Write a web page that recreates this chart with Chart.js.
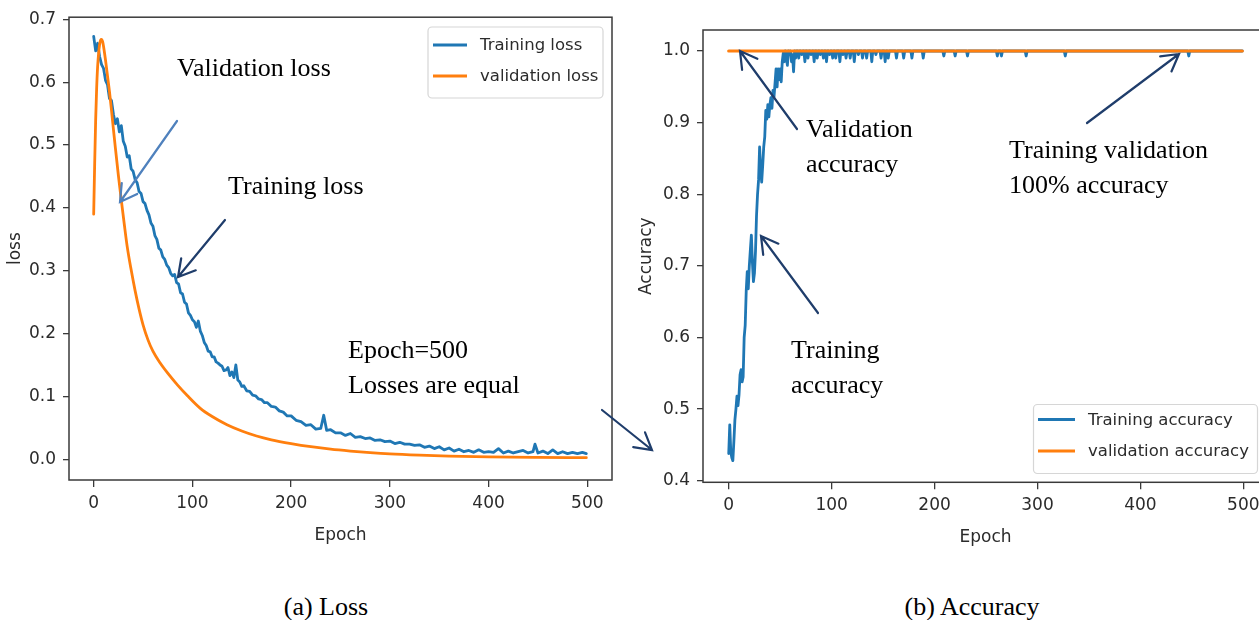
<!DOCTYPE html>
<html>
<head>
<meta charset="utf-8">
<script src="https://cdn.jsdelivr.net/npm/chart.js@4.4.0/dist/chart.umd.min.js"></script>
<style>
  html, body { margin: 0; padding: 0; background: #fff; overflow: hidden; width: 1259px; height: 620px; }
  canvas { position: absolute; top: 0; }
  #lossChart { left: 0; }
  #accChart { left: 631px; }
  .note { position: absolute; font-family: 'Liberation Serif', 'Times New Roman', serif; font-size: 26px;
          line-height: 35px; color: #000; white-space: nowrap; }
  .cap { width: 300px; text-align: center; }
</style>
</head>
<body>
<canvas id="lossChart" width="660" height="560"></canvas>
<canvas id="accChart" width="647" height="560"></canvas>

<div class="note" style="left:177px; top:50px">Validation loss</div>
<div class="note" style="left:228px; top:168px">Training loss</div>
<div class="note" style="left:348px; top:332px">Epoch=500<br>Losses are equal</div>
<div class="note" style="left:806px; top:111px">Validation<br>accuracy</div>
<div class="note" style="left:1009px; top:132px">Training validation<br>100% accuracy</div>
<div class="note" style="left:791px; top:332px">Training<br>accuracy</div>
<div class="note cap" style="left:176px; top:589px">(a) Loss</div>
<div class="note cap" style="left:822px; top:589px">(b) Accuracy</div>

<script>
// tick labels
const epochTicks = [0, 100, 200, 300, 400, 500];
const lossTicks = [0.0, 0.1, 0.2, 0.3, 0.4, 0.5, 0.6, 0.7];
const accTicks = [0.4, 0.5, 0.6, 0.7, 0.8, 0.9, 1.0];

// loss curves
const trainLossEpochs = [0,2,4,6,8,10,12,14,16,18,20,22,24,26,28,30,32,34,36,38,40,42,44,46,48,50,
  52,54,56,58,60,62,64,66,68,70,72,74,76,78,80,82,84,86,88,90,92,94,96,98,100,102,104,106,108,110,
  112,114,116,118,120,122,124,126,128,130,132,134,136,138,140,142,144,146,148,150,152,155,158,161,
  164,167,170,173,176,180,184,188,192,196,200,205,210,215,220,225,230,233,236,240,245,250,255,260,
  265,270,275,280,285,290,295,300,305,310,315,320,325,330,335,340,345,350,355,360,365,370,375,380,
  385,390,395,400,405,410,415,420,425,430,435,440,445,447,450,455,460,465,470,475,480,485,490,495,499];
const trainLoss = [.673,.650,.662,.641,.628,.622,.603,.596,.574,.571,.549,.534,.542,.521,.531,.506,
  .498,.481,.483,.462,.458,.445,.440,.426,.423,.410,.407,.396,.389,.376,.371,.356,.350,.336,.333,.322,
  .318,.309,.305,.296,.292,.294,.281,.279,.265,.263,.250,.247,.233,.229,.222,.219,.210,.220,.204,.197,
  .186,.181,.172,.171,.163,.163,.155,.153,.150,.148,.141,.142,.146,.133,.139,.130,.150,.126,.123,.116,
  .117,.109,.108,.102,.101,.096,.095,.090,.090,.084,.083,.077,.075,.069,.069,.062,.060,.054,.055,.048,
  .049,.070,.046,.047,.042,.042,.038,.041,.035,.036,.033,.034,.030,.031,.028,.029,.025,.027,.024,.024,
  .022,.023,.019,.021,.017,.020,.015,.018,.013,.016,.012,.014,.011,.015,.011,.012,.011,.017,.010,.013,
  .010,.012,.014,.010,.012,.024,.010,.013,.009,.015,.009,.012,.009,.011,.009,.011,.009];
const valLossEpochs = [0,1,2,3,4,5,6,7,8,9,10,12,14,16,18,20,22,25,28,31,34,38,42,46,50,55,60,67,75,
  85,95,108,120,135,150,165,180,200,220,240,260,280,300,330,360,400,450,499];
const valLoss = [.390,.470,.540,.590,.625,.646,.660,.667,.668,.665,.657,.635,.610,.585,.556,.525,.495,
  .452,.412,.374,.338,.301,.268,.239,.214,.190,.172,.154,.137,.118,.101,.081,.068,.055,.045,.037,.031,
  .025,.020,.016,.013,.0105,.0085,.0065,.005,.0038,.003,.0025];

// training accuracy, epochs 0..156 one value per epoch
const trainAccEarly = [
  .438,.478,.440,.432,.428,.455,.485,.500,.518,.505,
  .520,.548,.555,.538,.545,.600,.617,.665,.692,.668,
  .700,.722,.743,.705,.678,.690,.720,.770,.800,.820,
  .866,.835,.817,.840,.866,.880,.917,.905,.925,.908,
  .925,.935,.920,.945,.936,.955,.975,.950,.975,.960,
  .975,.957,.985,.997,.985,1.00,.990,.980,1.00,.995,
  1.00,.985,.995,.971,1.00,.990,1.00,1.00,.990,1.00,
  1.00,.995,1.00,1.00,.985,1.00,1.00,.990,1.00,1.00,
  .995,1.00,1.00,.985,1.00,1.00,.990,1.00,1.00,.995,
  1.00,1.00,.990,1.00,1.00,.985,1.00,1.00,.995,1.00,
  1.00,.990,1.00,1.00,.990,1.00,1.00,1.00,.985,1.00,
  1.00,.995,1.00,1.00,.990,1.00,1.00,1.00,.990,1.00,
  1.00,1.00,.985,1.00,1.00,1.00,.995,1.00,1.00,1.00,
  .990,1.00,1.00,1.00,.990,1.00,1.00,1.00,1.00,.985,
  1.00,1.00,1.00,.995,1.00,1.00,1.00,1.00,.990,1.00,
  1.00,1.00,.985,1.00,1.00,.990,1.00];
// after epoch 156 it sits at 1.0 with a few small dips
const trainAccLateEpochs = [157,162,163,164,169,170,171,177,178,179,188,189,190,208,209,210,219,220,
  221,231,232,233,260,261,262,264,265,266,288,289,290,326,327,328,446,447,448,499];
const trainAccLate = [1,1,.99,1,1,.99,1,1,.99,1,1,.99,1,1,.993,1,1,.993,
  1,1,.993,1,1,.993,1,1,.993,1,1,.993,1,1,.993,1,1,.993,1,1];
const valAccEpochs = [0, 499];
const valAcc = [1.0, 1.0];

const BLUE = '#1f77b4', ORANGE = '#ff7f0e', AXIS = '#3a3a3a', TEXT = '#2b2b2b';
const tickFont = { family: 'DejaVu Sans', size: 17 };

function pairs(xs, ys) {
  return xs.map((x, i) => ({ x: x, y: ys[i] }));
}

function arrow(ctx, a) {
  const [x0, y0, x1, y1, color] = a;
  const ang = Math.atan2(y1 - y0, x1 - x0), len = 19, spread = 0.52;
  ctx.strokeStyle = color;
  ctx.lineWidth = 2.2;
  ctx.lineCap = 'round';
  ctx.beginPath();
  ctx.moveTo(x0, y0);
  ctx.lineTo(x1, y1);
  ctx.moveTo(x1 - len * Math.cos(ang - spread), y1 - len * Math.sin(ang - spread));
  ctx.lineTo(x1, y1);
  ctx.lineTo(x1 - len * Math.cos(ang + spread), y1 - len * Math.sin(ang + spread));
  ctx.stroke();
}

// frame, matplotlib-style legend and the annotation arrows (page coordinates)
function overlay(spec) {
  return {
    id: 'overlay',
    afterDraw(chart) {
      const ctx = chart.ctx, a = chart.chartArea;
      ctx.save();
      ctx.strokeStyle = AXIS;
      ctx.lineWidth = 1.5;
      ctx.strokeRect(a.left, a.top, a.right - a.left, a.bottom - a.top);

      ctx.translate(-spec.offset, 0);
      const lg = spec.legend;
      ctx.beginPath();
      ctx.roundRect(lg.x, lg.y, lg.w, lg.h, 4);
      ctx.fillStyle = 'rgba(255,255,255,0.85)';
      ctx.fill();
      ctx.strokeStyle = '#d6d6d6';
      ctx.lineWidth = 1.2;
      ctx.stroke();
      ctx.font = lg.font + 'px "DejaVu Sans"';
      ctx.textBaseline = 'middle';
      chart.data.datasets.forEach((ds, i) => {
        const y = lg.rows[i];
        ctx.strokeStyle = ds.borderColor;
        ctx.lineWidth = 3;
        ctx.beginPath();
        ctx.moveTo(lg.x0, y);
        ctx.lineTo(lg.x1, y);
        ctx.stroke();
        ctx.fillStyle = TEXT;
        ctx.fillText(ds.label, lg.tx, y + 1);
      });
      spec.arrows.forEach(ar => arrow(ctx, ar));
      ctx.restore();
    }
  };
}

function axes(o) {
  return {
    x: {
      type: 'linear', min: o.xMin, max: o.xMax,
      afterBuildTicks: s => { s.ticks = epochTicks.map(v => ({ value: v })); },
      afterFit: s => { s.height = o.xHeight; },
      grid: { drawOnChartArea: false, color: AXIS, tickLength: 7, lineWidth: 1.3 },
      border: { display: false },
      ticks: { font: tickFont, color: TEXT, padding: 6, maxRotation: 0, callback: v => String(v) },
      title: { display: true, text: 'Epoch', font: tickFont, color: TEXT, padding: { top: 4, bottom: 3 } }
    },
    y: {
      type: 'linear', min: o.yMin, max: o.yMax,
      afterBuildTicks: s => { s.ticks = o.yTicks.map(v => ({ value: v })); },
      afterFit: s => { s.width = o.yWidth; },
      grid: { drawOnChartArea: false, color: AXIS, tickLength: 6, lineWidth: 1.3 },
      border: { display: false },
      ticks: { font: tickFont, color: TEXT, padding: 7, callback: v => v.toFixed(1) },
      title: { display: true, text: o.yTitle, font: tickFont, color: TEXT, padding: { top: 5, bottom: 4 } }
    }
  };
}

const baseOptions = (pad, sc) => ({
  responsive: false,
  animation: false,
  devicePixelRatio: 1,
  layout: { padding: pad, autoPadding: false },
  elements: { point: { radius: 0 }, line: { borderJoinStyle: 'round', borderCapStyle: 'round' } },
  plugins: { legend: { display: false }, tooltip: { enabled: false } },
  scales: sc
});

new Chart(document.getElementById('lossChart'), {
  type: 'line',
  data: {
    datasets: [
      { label: 'Training loss', data: pairs(trainLossEpochs, trainLoss), borderColor: BLUE,
        borderWidth: 2.8, order: 2 },
      { label: 'validation loss', data: pairs(valLossEpochs, valLoss), borderColor: ORANGE,
        borderWidth: 2.8, cubicInterpolationMode: 'monotone', order: 1 }
    ]
  },
  options: baseOptions({ left: 0, top: 16, right: 48, bottom: 11 },
    axes({ xMin: -25, xMax: 525, yMin: -0.033, yMax: 0.7035, yTicks: lossTicks,
           yTitle: 'loss', yWidth: 69, xHeight: 69 })),
  plugins: [overlay({
    offset: 0,
    legend: { x: 428, y: 27, w: 175, h: 71, x0: 433, x1: 467, tx: 480, rows: [45, 76], font: 16.5 },
    arrows: [
      [177, 121, 120, 202, '#4f81bd'],
      [225, 220, 178, 277, '#1f3d6b'],
      [602, 410, 652, 450, '#1f3d6b']
    ]
  })]
});

new Chart(document.getElementById('accChart'), {
  type: 'line',
  data: {
    datasets: [
      { label: 'Training accuracy',
        data: pairs(trainAccEarly.map((v, i) => i), trainAccEarly).concat(pairs(trainAccLateEpochs, trainAccLate)),
        borderColor: BLUE, borderWidth: 2.8, order: 2 },
      { label: 'validation accuracy', data: pairs(valAccEpochs, valAcc), borderColor: ORANGE,
        borderWidth: 3.2, order: 1 }
    ]
  },
  options: baseOptions({ left: 0, top: 30, right: 10, bottom: 9.4 },
    axes({ xMin: -25, xMax: 524, yMin: 0.3978, yMax: 1.0293, yTicks: accTicks,
           yTitle: 'Accuracy', yWidth: 72, xHeight: 68.3 })),
  plugins: [overlay({
    offset: 631,
    legend: { x: 1033.5, y: 404.5, w: 224, h: 69, x0: 1038, x1: 1075, tx: 1088, rows: [419.5, 451], font: 16.5 },
    arrows: [
      [797, 129, 740, 51, '#1f3d6b'],
      [818, 313, 761, 236, '#1f3d6b'],
      [1087, 123, 1179, 54, '#1f3d6b']
    ]
  })]
});
</script>
</body>
</html>
